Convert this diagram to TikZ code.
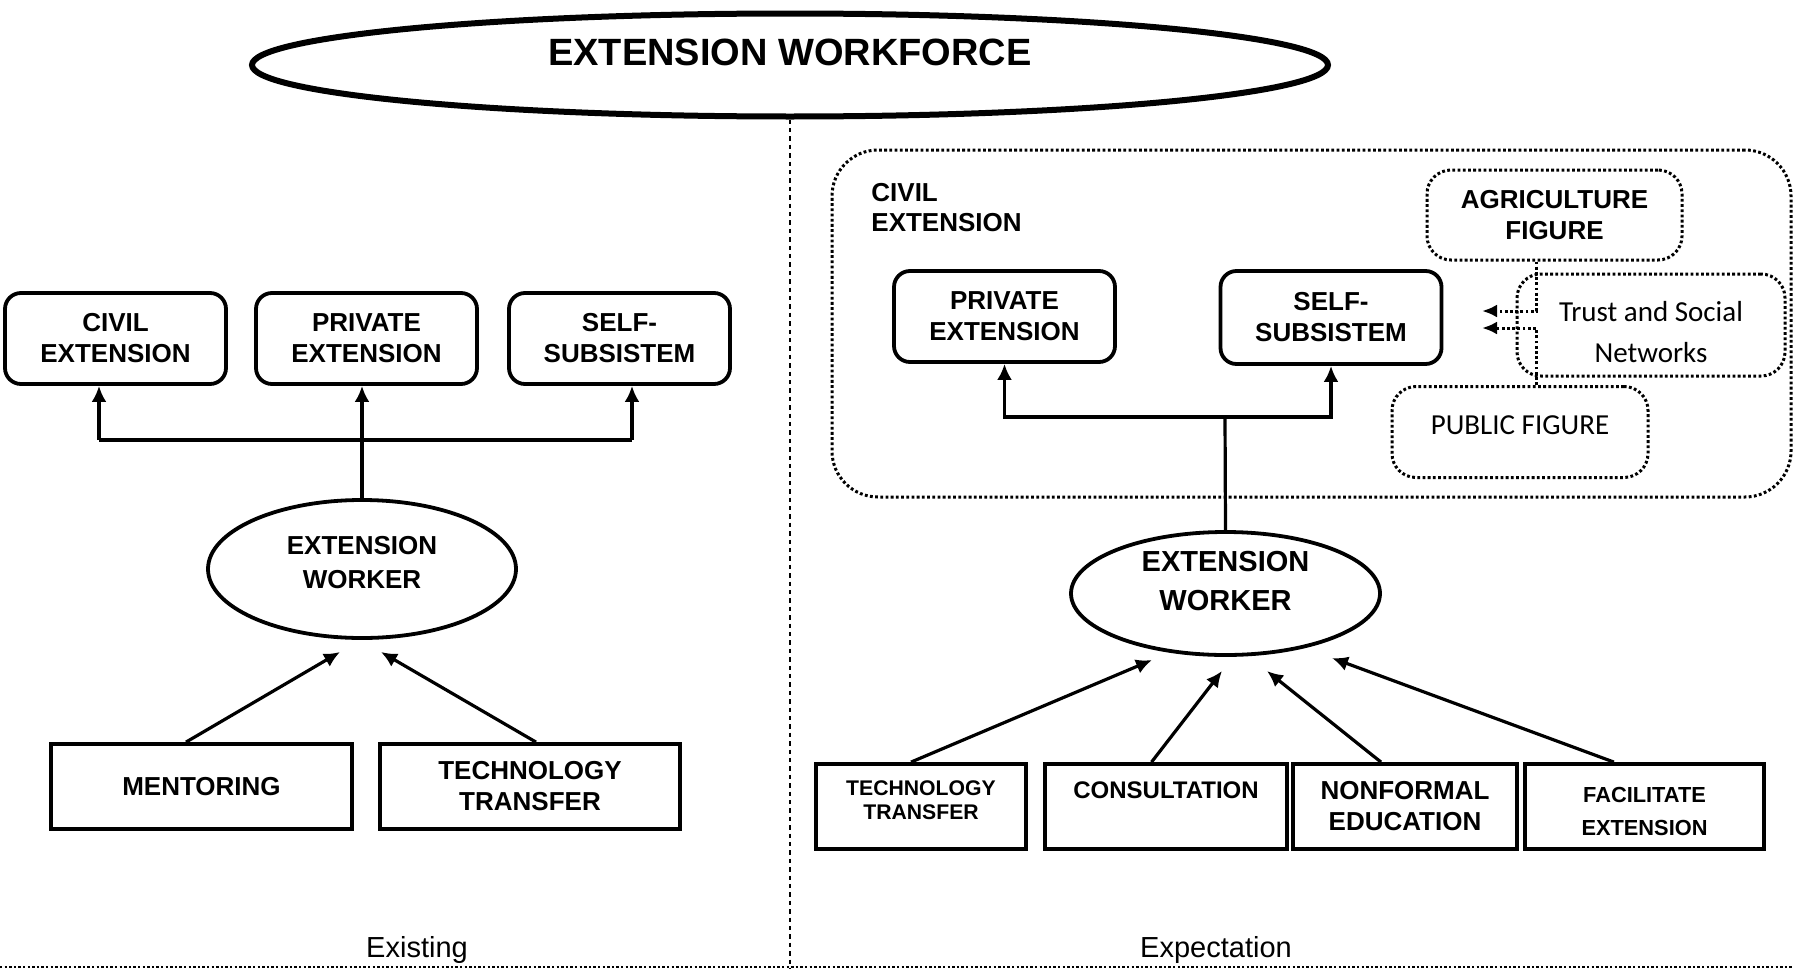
\documentclass[tikz,border=0pt]{standalone}
\usepackage{fontspec}
\setmainfont{Liberation Sans}
\newfontfamily\calibrifont{Carlito}
\usetikzlibrary{shapes.geometric,arrows.meta}

\begin{document}
\begin{tikzpicture}[
x=0.5pt, y=-0.5pt,
every node/.style={font=\bfseries\fontsize{13}{15.5}\selectfont, align=center, inner sep=0pt},
rbox/.style={draw, rectangle, rounded corners=8pt, line width=1.9pt, minimum width=110.5pt, minimum height=45.5pt},
sbox/.style={draw, rectangle, line width=1.9pt, minimum height=42.5pt},
oval/.style={draw, ellipse, line width=1.9pt},
dotbox/.style={draw, rectangle, rounded corners=12pt, line width=1.5pt, dash pattern=on 1.4pt off 1.2pt},
link/.style={line width=1.6pt},
arr/.style={line width=1.6pt, -{Latex[length=8pt,width=7.5pt]}},
dotarr/.style={line width=1.5pt, dash pattern=on 1.4pt off 1.2pt, -{Latex[length=7.5pt,width=6.5pt]}}
]

\useasboundingbox (0,0) rectangle (1793,969);

\node[oval, line width=3pt, minimum width=538pt, minimum height=51.5pt, text depth=13pt, font=\bfseries\fontsize{19}{22}\selectfont] (workforce) at (790,65) {EXTENSION WORKFORCE};

\coordinate (divbottom) at (790,969);
\coordinate (lineleft) at (0,967);
\coordinate (lineright) at (1793,967);
\draw[line width=1.3pt, dash pattern=on 2.2pt off 2pt] (workforce.south) -- (divbottom);
\draw[line width=1.2pt, dash pattern=on 1.2pt off 1.1pt] (lineleft) -- (lineright);

\path
(115.5,338.5) node[rbox] (civilL) {CIVIL\\EXTENSION}
(366.5,338.5) node[rbox] (privateL) {PRIVATE\\EXTENSION}
(619.5,338.5) node[rbox] (selfL) {SELF-\\SUBSISTEM}
(362,569) node[oval, minimum width=154pt, minimum height=69pt, text depth=6.5pt, font=\bfseries\fontsize{13}{17}\selectfont] (workerL) {EXTENSION\\WORKER}
(201.5,786.5) node[sbox, minimum width=150.5pt] (mentoring) {MENTORING}
(530,786.5) node[sbox, minimum width=150pt] (techL) {TECHNOLOGY\\TRANSFER}
;

\coordinate (jL1) at (99,440);
\coordinate (jL3) at (632,440);
\coordinate (tipL1) at (340,652);
\coordinate (tipL2) at (381,652);
\draw[link] (jL1) -- (jL3);
\draw[arr] (jL1) -- (civilL.south -| jL1);
\draw[arr] (workerL.north) -- (privateL.south -| workerL.north);
\draw[arr] (jL3) -- (selfL.south -| jL3);
\draw[arr] ([xshift=-7.75pt]mentoring.north) -- (tipL1);
\draw[arr] ([xshift=3pt]techL.north) -- (tipL2);

\node[font=\fontsize{14.5}{17}\selectfont, anchor=base] (existing) at (417,957) {Existing};
\node[font=\fontsize{14.5}{17}\selectfont, anchor=base] (expectation) at (1216,957) {Expectation};

\node[dotbox, rounded corners=23pt, minimum width=479.5pt, minimum height=173.5pt] (civilR) at (1311.5,323.5) {};
\node[anchor=west, align=left, font=\bfseries\fontsize{13}{15}\selectfont] (civilRlabel) at (871,208) {CIVIL\\EXTENSION};

\path
(1004.5,316.5) node[rbox] (privateR) {PRIVATE\\EXTENSION}
(1331,317.5) node[rbox, minimum height=46.5pt] (selfR) {SELF-\\SUBSISTEM}
(1554.5,215) node[dotbox, minimum width=127.5pt, minimum height=45pt] (agri) {AGRICULTURE\\FIGURE}
(1651,325) node[dotbox, minimum width=134pt, minimum height=51pt, text height=37.5pt, font=\calibrifont\fontsize{14.5}{20.5}\selectfont] (trust) {Trust and Social\\Networks}
(1520,432) node[dotbox, minimum width=128pt, minimum height=45.5pt, text depth=7pt, font=\calibrifont\fontsize{14.5}{17}\selectfont] (pub) {PUBLIC FIGURE}
(1225.5,593.5) node[oval, minimum width=154.5pt, minimum height=61.5pt, text depth=12.7pt, font=\bfseries\fontsize{14.5}{19.5}\selectfont] (workerR) {EXTENSION\\WORKER}
(921,806.5) node[sbox, minimum width=105pt, text depth=6pt, font=\bfseries\fontsize{10.6}{12}\selectfont] (techR) {TECHNOLOGY\\TRANSFER}
(1166,806.5) node[sbox, minimum width=121pt, text depth=16.5pt, font=\bfseries\fontsize{12}{14}\selectfont] (consult) {CONSULTATION}
(1405,806.5) node[sbox, minimum width=112pt] (nonformal) {NONFORMAL\\EDUCATION}
(1644.5,806.5) node[sbox, minimum width=119.5pt, text height=29.3pt, font=\bfseries\fontsize{10.9}{16.5}\selectfont] (facil) {FACILITATE\\EXTENSION}
;

\coordinate (jR) at (1225,417);
\draw[link] (workerR.north) -- (jR);
\draw[arr] (jR) -| (privateR.south);
\draw[arr] (jR) -| (selfR.south);

\coordinate (tipT1) at (1482,311);
\coordinate (tipT2) at (1482,328);
\coordinate (trustline) at (1536,0);
\draw[dotarr] (agri.south -| trustline) |- (tipT1);
\draw[dotarr] (pub.north -| trustline) |- (tipT2);

\coordinate (tipR1) at (1152,660);
\coordinate (tipR2) at (1222,671);
\coordinate (tipR3) at (1267,671);
\coordinate (tipR4) at (1332,658);
\draw[arr] ([xshift=-5pt]techR.north) -- (tipR1);
\draw[arr] ([xshift=-7.25pt]consult.north) -- (tipR2);
\draw[arr] ([xshift=-12pt]nonformal.north) -- (tipR3);
\draw[arr] ([xshift=-15.3pt]facil.north) -- (tipR4);

\end{tikzpicture}
\end{document}
